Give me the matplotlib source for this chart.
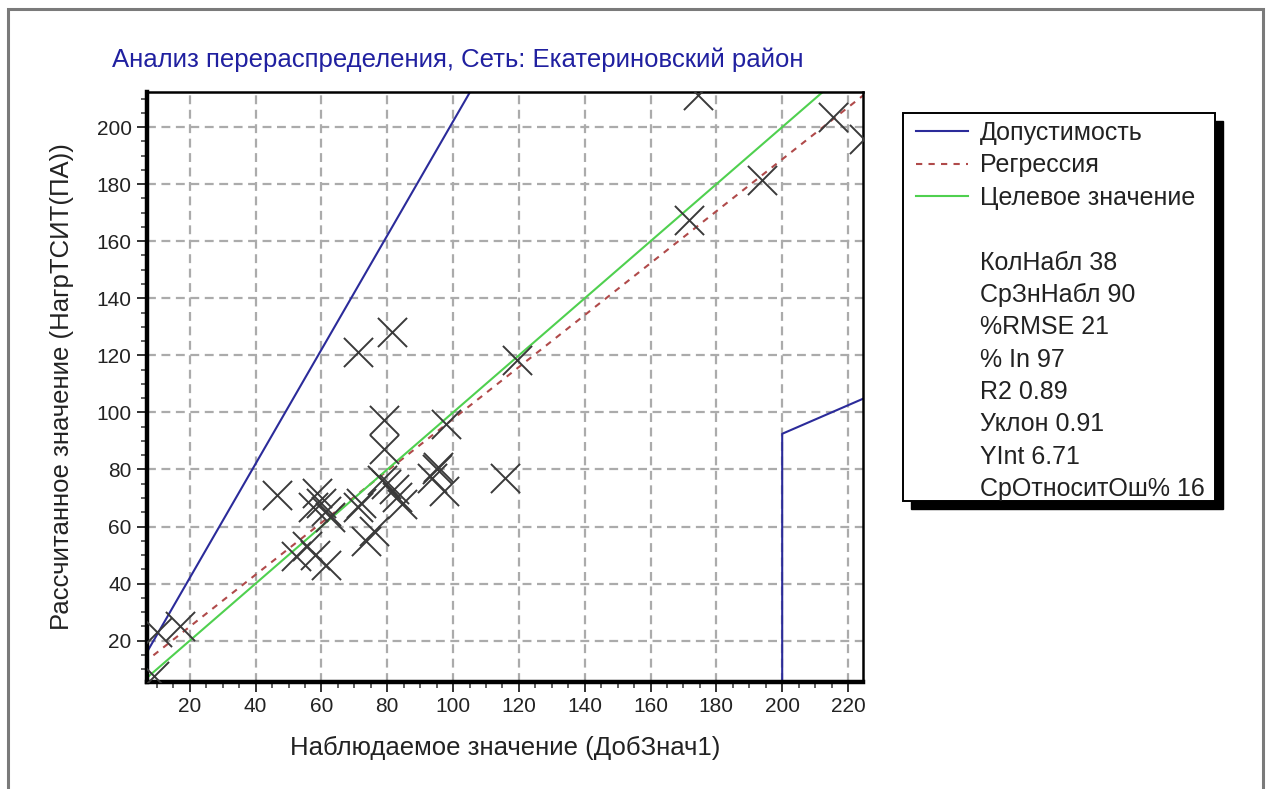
import matplotlib
matplotlib.use("Agg")
import matplotlib.pyplot as plt
from matplotlib.lines import Line2D
from matplotlib.patches import Rectangle
from matplotlib.ticker import MultipleLocator

plt.rcParams['font.family'] = ['Liberation Sans', 'DejaVu Sans']

# ---------------- data ----------------
title = "Анализ перераспределения, Сеть: Екатериновский район"
x_label = "Наблюдаемое значение (ДобЗнач1)"
y_label = "Рассчитанное значение (НагрТСИТ(ПА))"

obs_x = [174.5, 215.5, 225.0, 193.8, 171.8, 119.5, 81.5, 71.1, 79.0, 98.0,
         79.0, 95.0, 115.9, 46.4, 58.8, 59.8, 61.3, 62.5, 71.9, 71.0,
         78.4, 79.5, 83.0, 84.5, 93.5, 97.2, 73.4, 75.9, 52.2, 55.7,
         61.3, 58.0, 17.0, 10.0, 9.0, 57.5, 82.0, 95.5]
est_y = [211.2, 203.6, 196.0, 181.5, 167.5, 118.4, 128.3, 121.0, 97.4, 96.0,
         87.0, 80.0, 77.0, 71.1, 71.7, 68.2, 65.3, 63.5, 68.2, 67.0,
         76.4, 75.0, 70.5, 68.0, 77.0, 72.3, 54.8, 58.3, 49.6, 53.1,
         46.6, 50.0, 25.0, 23.0, 7.5, 67.0, 73.0, 81.0]

tol_upper_x = [0, 120]
tol_upper_y = [2, 242]
tol_lower_x = [200, 200, 240]
tol_lower_y = [0, 92.5, 112.5]

reg_slope = 0.91
reg_int = 6.71
line_x = [0, 240]

stats = ["КолНабл 38", "СрЗнНабл 90", "%RMSE 21", "% In 97", "R2 0.89",
         "Уклон 0.91", "YInt 6.71", "СрОтноситОш% 16"]
legend_labels = ["Допустимость", "Регрессия", "Целевое значение"]

xlim = (7.0, 224.4)
ylim = (5.5, 212.3)

# ---------------- figure ----------------
W, H = 1266, 789
fig = plt.figure(figsize=(W / 100, H / 100), dpi=100)
fig.patch.set_facecolor('white')

# outer frame (window border)
fig.add_artist(Rectangle((8 / W, -0.05), (1263 - 8) / W, 1.05 - 9 / H,
                         transform=fig.transFigure, fill=False,
                         edgecolor='#7a7a7a', linewidth=2.2, zorder=-5))

ax = fig.add_axes([147 / W, 1 - 682 / H, (862.5 - 147) / W, (682 - 92) / H])

ax.set_xlim(*xlim)
ax.set_ylim(*ylim)

grid_kw = dict(color='#ababab', linewidth=1.6, linestyle=(0, (4, 2.5)))
ax.grid(True, which='major', **grid_kw)
ax.set_axisbelow(True)

l_tol, = ax.plot(tol_upper_x, tol_upper_y, color='#2b2b9a', linewidth=1.5)
ax.plot(tol_lower_x, tol_lower_y, color='#2b2b9a', linewidth=1.5)
l_reg, = ax.plot(line_x, [reg_slope * v + reg_int for v in line_x],
                 color='#b04a4a', linewidth=1.5, linestyle=(0, (3, 3)))
l_tgt, = ax.plot(line_x, line_x, color='#4fd04f', linewidth=1.5)

ax.scatter(obs_x, est_y, marker='x', s=440, color='#3a3a3a',
           linewidths=1.4, zorder=4)

ax.xaxis.set_major_locator(MultipleLocator(20))
ax.yaxis.set_major_locator(MultipleLocator(20))
ax.xaxis.set_minor_locator(MultipleLocator(5))
ax.yaxis.set_minor_locator(MultipleLocator(5))
ax.tick_params(which='major', direction='out', length=7, width=1.3,
               labelsize=15, colors='#222222', pad=4)
ax.tick_params(which='minor', direction='out', length=4, width=1.2,
               colors='#444444')

for side in ['left', 'bottom']:
    ax.spines[side].set_linewidth(3.2)
for side in ['top', 'right']:
    ax.spines[side].set_linewidth(1.8)
for s in ax.spines.values():
    s.set_color('black')

ax.set_xlabel(x_label, fontsize=18.5, color='#222222')
ax.set_ylabel(y_label, fontsize=18.5, color='#222222')
ax.xaxis.set_label_coords(0.5, -0.092)
ax.yaxis.set_label_coords(-0.102, 0.5)

fig.text(112 / W, 1 - 60 / H, title, fontsize=18.5, color='#2020a0',
         ha='left', va='center')

# ---------------- legend ----------------
# box (layout, in figure pixels from the top-left)
box_l, box_t, box_r, box_b = 902.7, 113.0, 1215.0, 501.0
shadow_off = 8

blank = Line2D([], [], color='none')
handles = [l_tol, l_reg, l_tgt, blank] + [blank] * len(stats)
labels = legend_labels + [""] + stats
leg = fig.legend(handles, labels, loc='upper left',
                 bbox_to_anchor=(916 / W, 1 - 121 / H),
                 bbox_transform=fig.transFigure,
                 fontsize=18, frameon=False,
                 handlelength=2.08, handletextpad=0.48,
                 labelspacing=0.335, borderpad=0, borderaxespad=0)
leg.set_zorder(6)
for t in leg.get_texts():
    t.set_color('#222222')

fig.add_artist(Rectangle((box_l / W, 1 - box_b / H),
                         (box_r - box_l) / W, (box_b - box_t) / H,
                         transform=fig.transFigure, facecolor='white',
                         edgecolor='black', linewidth=1.4, zorder=5))
fig.add_artist(Rectangle(((box_l + shadow_off) / W, 1 - (box_b + shadow_off) / H),
                         (box_r - box_l) / W, (box_b - box_t) / H,
                         transform=fig.transFigure, facecolor='black',
                         edgecolor='black', linewidth=1.0, zorder=4.5))

fig.savefig("out.png", dpi=100)
